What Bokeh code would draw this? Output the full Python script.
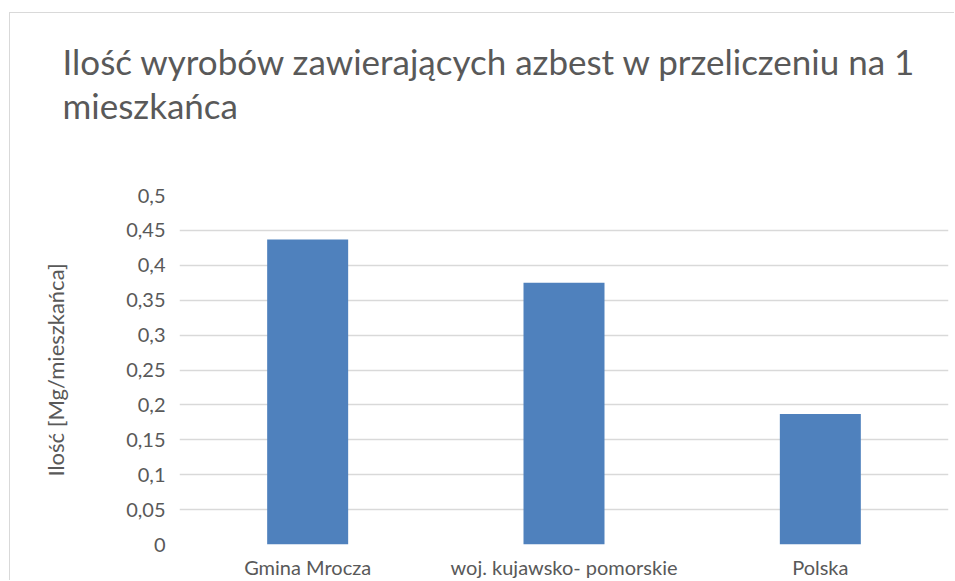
from bokeh.plotting import figure
from bokeh.models import Range1d, FactorRange, FixedTicker, Title
from bokeh.embed import file_html
from bokeh.resources import INLINE

title_lines = ["Ilość wyrobów zawierających azbest w przeliczeniu na 1", "mieszkańca"]
y_title = "Ilość [Mg/mieszkańca]"
categories = ["Gmina Mrocza", "woj. kujawsko- pomorskie", "Polska"]
values = [0.437, 0.375, 0.187]
y_ticks = [0, 0.05, 0.1, 0.15, 0.2, 0.25, 0.3, 0.35, 0.4, 0.45, 0.5]
y_tick_labels = ["0", "0,05", "0,1", "0,15", "0,2", "0,25", "0,3", "0,35", "0,4", "0,45", "0,5"]

FONT = "Lato"
TEXT = "#595959"
GRID = "#d9d9d9"
BAR = "#4f81bd"

p = figure(
    width=945, height=568,
    margin=(12, 0, 0, 9),
    x_range=FactorRange(*categories, range_padding=0),
    y_range=Range1d(0, 0.5),
    output_backend="svg", toolbar_location=None,
    title_location=None,
    min_border_left=169, min_border_right=7,
    min_border_top=182, min_border_bottom=36,
    outline_line_color=None,
    styles={"border-top": "1px solid #d9d9d9", "border-left": "1px solid #d9d9d9"},
)

p.vbar(x=categories, top=values, width=0.316, color=BAR, line_color=None)

# spacer between the plot and the title block
p.add_layout(Title(text=" ", text_font_size="1px", standoff=67), "above")
# two-line chart title: the line added first sits closest to the plot
for line in reversed(title_lines):
    p.add_layout(Title(
        text=line, align="left", offset=-117, standoff=0,
        text_font=FONT, text_font_size="35px", text_font_style="normal",
        text_color=TEXT,
    ), "above")

p.yaxis.ticker = FixedTicker(ticks=y_ticks)
p.yaxis.major_label_overrides = {t: l for t, l in zip(y_ticks, y_tick_labels)}
p.yaxis.axis_label = y_title
p.yaxis.axis_label_text_font = FONT
p.yaxis.axis_label_text_font_size = "22px"
p.yaxis.axis_label_text_font_style = "normal"
p.yaxis.axis_label_text_color = TEXT
p.yaxis.axis_label_standoff = 54

for ax in (p.xaxis, p.yaxis):
    ax.axis_line_color = None
    ax.major_tick_line_color = None
    ax.minor_tick_line_color = None
    ax.major_label_text_font = FONT
    ax.major_label_text_color = TEXT
p.yaxis.major_label_standoff = 8
p.xaxis.major_label_standoff = 4
p.yaxis.major_label_text_font_size = "20px"
p.xaxis.major_label_text_font_size = "20px"

p.xgrid.grid_line_color = None
p.ygrid.grid_line_color = GRID
p.ygrid.grid_line_width = 1.3

open("out.html", "w").write(file_html(p, INLINE))
